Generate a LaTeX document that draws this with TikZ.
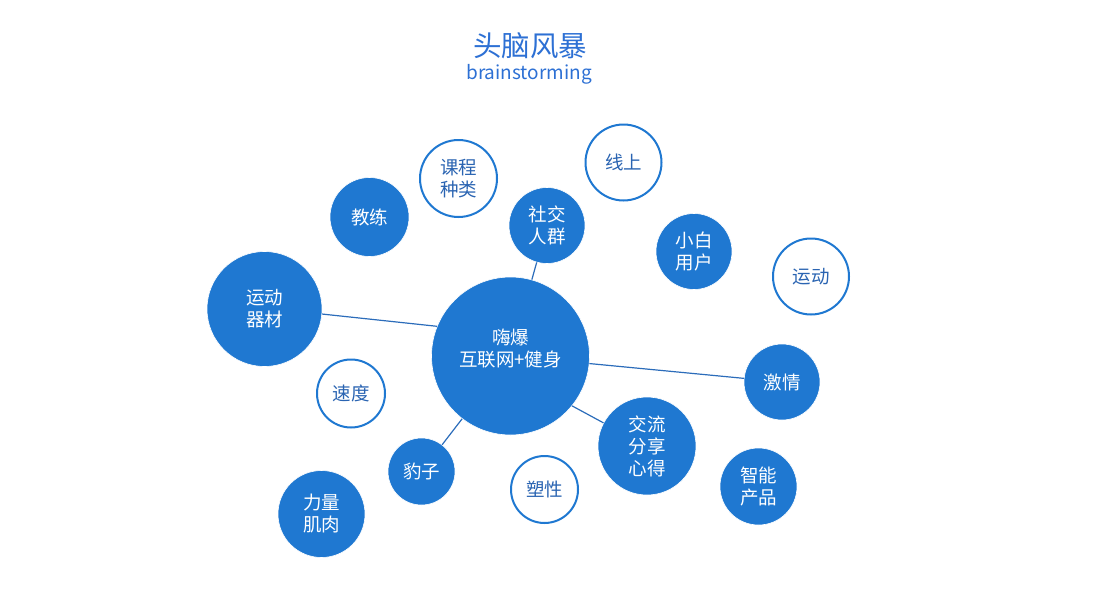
\documentclass[tikz,border=0pt]{standalone}
\usepackage{fontspec}
\setmainfont{Noto Sans CJK SC}
\definecolor{fillblue}{RGB}{31,120,209}
\definecolor{lineblue}{RGB}{43,108,186}
\definecolor{textblue}{RGB}{42,100,178}
\definecolor{titleblue}{RGB}{45,112,212}
\begin{document}
\begin{tikzpicture}[x=1pt,y=-1pt,
  bubble/.style={circle,fill=fillblue,draw=white,line width=0.6pt,text=white,inner sep=0pt,align=center,font=\fontsize{18.5}{22}\selectfont},
  ring/.style={circle,fill=white,draw=fillblue,line width=2pt,text=textblue,inner sep=0pt,align=center,font=\fontsize{18.5}{22}\selectfont},
  link/.style={draw=lineblue,line width=1.2pt}]
\useasboundingbox (0,0) rectangle (1101,600);
\node[text=titleblue,font=\fontsize{28.5}{30}\selectfont] (title) at (530,46) {头脑风暴};
\node[text=titleblue,font=\fontsize{19}{22}\selectfont] (sub) at (529,74) {brainstorming};

\node[bubble,minimum size=158pt] (c) at (510.5,356) {嗨爆\\互联网+健身\\[-6pt]\mbox{}};
\node[bubble,minimum size=115pt] (qc) at (264.5,309) {运动\\器材};
\node[bubble,minimum size=79pt] (jl) at (369.5,217) {教练};
\node[ring,minimum size=77pt] (kc) at (458.5,178.5) {课程\\种类};
\node[bubble,minimum size=76pt] (sj) at (547,225.5) {社交\\人群};
\node[ring,minimum size=76pt] (xs) at (623.5,162.5) {线上};
\node[bubble,minimum size=76pt] (xb) at (694,251.5) {小白\\用户};
\node[ring,minimum size=76pt] (yd) at (811,276.5) {运动};
\node[bubble,minimum size=76pt] (jq) at (782,382) {激情};
\node[bubble,minimum size=98pt] (jx) at (647,446) {交流\\分享\\心得};
\node[bubble,minimum size=77pt] (zn) at (758.5,486.5) {智能\\产品};
\node[ring,minimum size=67pt] (sx) at (544.5,489.5) {塑性};
\node[bubble,minimum size=67pt] (bz) at (421.5,471.5) {豹子};
\node[ring,minimum size=68pt] (sd) at (351,393.5) {速度};
\node[bubble,minimum size=87pt] (ll) at (321.5,514) {力量\\肌肉};

\draw[link] (c.158) -- (qc.-5);
\draw[link] (c) -- (sj);
\draw[link] (c) -- (jq);
\draw[link] (c.-39) -- (jx.152);
\draw[link] (c) -- (bz);
\end{tikzpicture}
\end{document}
